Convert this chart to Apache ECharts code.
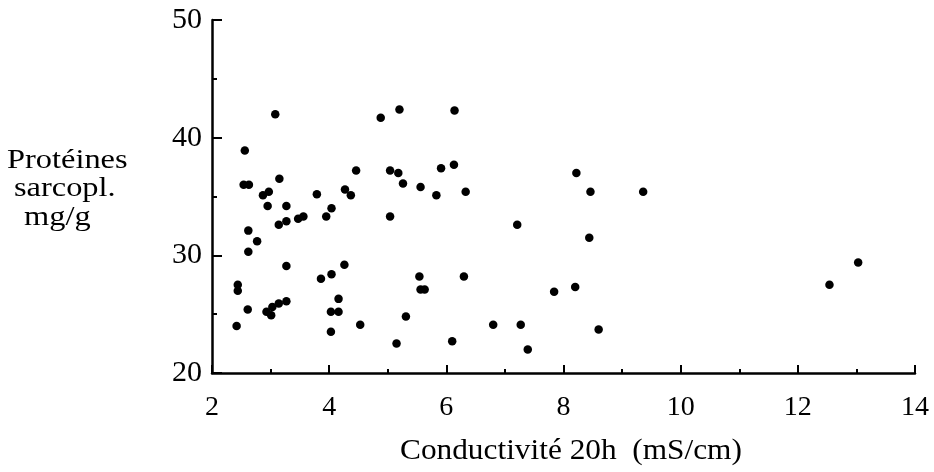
<!DOCTYPE html>
<html>
<head>
<meta charset="utf-8">
<script src="https://cdn.jsdelivr.net/npm/echarts@6/dist/echarts.min.js"></script>
<style>
html,body{margin:0;padding:0;background:#fff;}
#chart{width:934px;height:472px;}
</style>
</head>
<body>
<div id="chart"></div>
<script>
// Conductivité 20h (mS/cm)
var conductivite = [
  2.56, 3.08, 2.54, 2.63, 2.87, 2.97, 3.15, 2.95, 3.27, 3.79,
  4.27, 4.37, 4.46, 4.88, 5.20, 5.04, 5.18, 5.26, 5.56, 5.83,
  5.91, 6.13, 6.14, 6.33, 8.22, 8.46, 9.36, 7.21, 8.44, 2.62,
  2.77, 2.62, 3.14, 3.27, 3.47, 3.56, 3.95, 4.04, 5.04, 3.27,
  2.44, 2.44, 2.61, 2.93, 3.01, 3.03, 3.14, 3.27, 2.42, 3.86,
  4.04, 4.26, 4.16, 4.03, 4.16, 4.03, 4.53, 5.31, 5.15, 5.54,
  5.56, 5.63, 6.30, 6.10, 6.80, 7.27, 7.39, 7.84, 8.20, 8.60,
  13.03, 12.54
];
// Protéines sarcopl. (mg/g)
var proteines = [
  38.9, 42.0, 36.0, 36.0, 35.1, 35.4, 36.5, 34.2, 34.2, 35.2,
  35.6, 35.1, 37.2, 41.7, 42.4, 37.2, 37.0, 36.1, 35.8, 35.1,
  37.4, 37.7, 42.3, 35.4, 37.0, 35.4, 35.4, 32.6, 31.5, 32.1,
  31.2, 30.3, 32.6, 32.9, 33.1, 33.3, 33.3, 34.0, 33.3, 29.1,
  27.5, 27.0, 25.4, 25.2, 24.9, 25.6, 25.9, 26.1, 24.0, 28.0,
  28.4, 29.2, 26.3, 25.2, 25.2, 23.5, 24.1, 24.8, 22.5, 28.2,
  27.1, 27.1, 28.2, 22.7, 24.1, 24.1, 22.0, 26.9, 27.3, 23.7,
  29.4, 27.5
];
var xTicks = {min: 2, max: 14, step: 2};
var yTicks = {min: 20, max: 50, step: 10};
var xTitle = 'Conductivité 20h  (mS/cm)';
var yTitleLines = ['Protéines', 'sarcopl.', 'mg/g'];

var points = conductivite.map(function (x, i) { return [x, proteines[i]]; });

var chart = echarts.init(document.getElementById('chart'), null, {renderer: 'canvas'});
var serif = 'Liberation Serif';
var axisCommon = {
  axisLine: {show: true, onZero: false, lineStyle: {color: '#000', width: 2.5}},
  splitLine: {show: false},
  minorSplitLine: {show: false}
};
chart.setOption({
  backgroundColor: '#fff',
  animation: false,
  grid: {left: 212, right: 19, top: 20, bottom: 99, containLabel: false},
  xAxis: Object.assign({
    type: 'value',
    min: xTicks.min, max: xTicks.max, interval: xTicks.step,
    axisTick: {show: true, inside: true, length: 8, lineStyle: {color: '#000', width: 2}},
    minorTick: {show: true, splitNumber: 2, length: 4, lineStyle: {color: '#000', width: 2}},
    axisLabel: {color: '#000', fontFamily: serif, fontSize: 28, margin: 21}
  }, axisCommon),
  yAxis: Object.assign({
    type: 'value',
    min: yTicks.min, max: yTicks.max, interval: yTicks.step,
    axisTick: {show: true, inside: true, length: 10, lineStyle: {color: '#000', width: 2}},
    minorTick: {show: true, splitNumber: 2, length: 5, lineStyle: {color: '#000', width: 2}},
    axisLabel: {color: '#000', fontFamily: serif, fontSize: 30, margin: 10}
  }, axisCommon),
  graphic: [
    {type: 'text', left: 400, top: 437, scaleX: 1.08,
     style: {text: xTitle, fill: '#000', fontFamily: serif, fontSize: 29}},
    {type: 'text', left: 7, top: 147, scaleX: 1.2,
     style: {text: yTitleLines[0], fill: '#000', fontFamily: serif, fontSize: 27}},
    {type: 'text', left: 14, top: 175, scaleX: 1.2,
     style: {text: yTitleLines[1], fill: '#000', fontFamily: serif, fontSize: 27}},
    {type: 'text', left: 24, top: 204, scaleX: 1.2,
     style: {text: yTitleLines[2], fill: '#000', fontFamily: serif, fontSize: 27}}
  ],
  series: [{
    type: 'scatter',
    data: points,
    symbol: 'circle',
    symbolSize: 8.5,
    itemStyle: {color: '#000', opacity: 1}
  }]
});
</script>
</body>
</html>
